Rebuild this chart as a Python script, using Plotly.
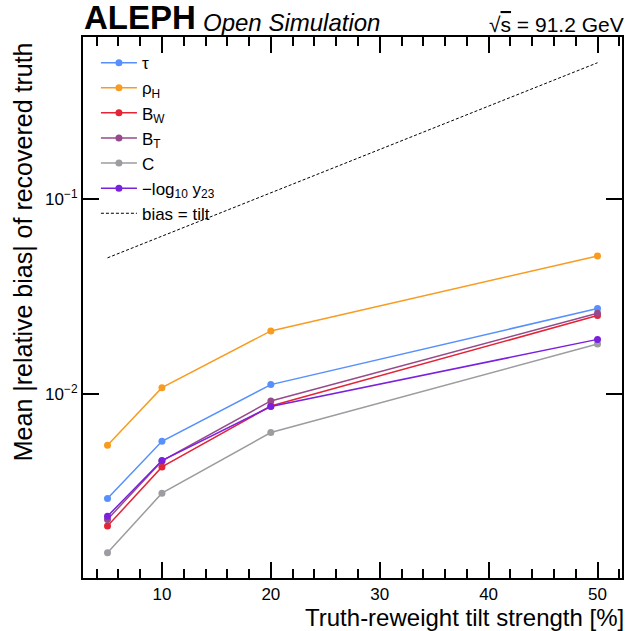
import plotly.graph_objects as go

tilt = [5, 10, 20, 50]
series_names = ["τ", "ρ<sub>H</sub>", "B<sub>W</sub>", "B<sub>T</sub>", "C", "−log<sub>10</sub> y<sub>23</sub>"]
tau = [0.00292, 0.00574, 0.0112, 0.0275]
rho_h = [0.00548, 0.0108, 0.0211, 0.0511]
b_w = [0.00211, 0.00424, 0.0087, 0.0253]
b_t = [0.00228, 0.00455, 0.00924, 0.0260]
c_par = [0.00154, 0.00311, 0.00636, 0.0181]
log_y23 = [0.00237, 0.00457, 0.00865, 0.0191]
colors = ["#5790fc", "#f89c20", "#e42536", "#964a8b", "#9c9ca1", "#7a21dd"]
bias_x = [5, 50]
bias_y = [x / 100 for x in bias_x]
y_major = [0.01, 0.1]
y_major_text = ["10<sup>−2</sup>", "10<sup>−1</sup>"]
y_minor = [v * 10 ** e for e in (-3, -2, -1) for v in range(2, 10)]

FONT = "Liberation Sans, Arial, Helvetica, sans-serif"
YRANGE = [-2.942, -0.169]
MAJ_LEN, MIN_LEN, TW = 16, 9, 1.5

fig = go.Figure()
for name, vals, col in zip(series_names, [tau, rho_h, b_w, b_t, c_par, log_y23], colors):
    fig.add_trace(go.Scatter(x=tilt, y=vals, mode="lines+markers", name=name,
                             line=dict(color=col, width=1.5),
                             marker=dict(color=col, size=7)))
fig.add_trace(go.Scatter(x=bias_x, y=bias_y, mode="lines", name="bias = tilt",
                         line=dict(color="black", width=1, dash="3px,2px")))

fig.update_layout(
    xaxis=dict(range=[2.75, 52.25], tickmode="linear", dtick=10, tick0=0,
               showline=True, linecolor="black", linewidth=2, mirror="allticks",
               ticks="inside", ticklen=MAJ_LEN, tickwidth=TW, tickcolor="black",
               showgrid=False, zeroline=False,
               tickfont=dict(size=17, color="black", family=FONT),
               minor=dict(ticks="inside", ticklen=MIN_LEN, tickwidth=TW, dtick=2, tick0=0,
                          tickcolor="black", showgrid=False)),
    yaxis=dict(type="log", range=YRANGE,
               tickmode="array", tickvals=y_major, ticktext=y_major_text,
               showline=True, linecolor="black", linewidth=2, mirror="allticks",
               ticks="inside", ticklen=MAJ_LEN, tickwidth=TW, tickcolor="black",
               showgrid=False, zeroline=False,
               tickfont=dict(size=17, color="black", family=FONT)),
    yaxis2=dict(type="log", range=YRANGE, overlaying="y", side="left",
                tickmode="array", tickvals=y_minor, showticklabels=False,
                showline=False, mirror="allticks",
                ticks="inside", ticklen=MIN_LEN, tickwidth=TW, tickcolor="black",
                showgrid=False, zeroline=False),
)

fig.update_layout(
    width=627, height=631,
    margin=dict(l=83, r=3, t=37, b=53),
    plot_bgcolor="white", paper_bgcolor="white",
    font=dict(family=FONT, color="black", size=17),
    showlegend=True,
    legend=dict(x=0.024, y=0.985, xanchor="left", yanchor="top", bgcolor="rgba(0,0,0,0)",
                font=dict(size=17, family=FONT), tracegroupgap=0, itemwidth=36),
    annotations=[
        dict(xref="paper", yref="paper", x=-0.002, y=0.998, xanchor="left", yanchor="bottom",
             text="<b>ALEPH</b>", showarrow=False, font=dict(size=33, family=FONT)),
        dict(xref="paper", yref="paper", x=0.218, y=0.998, xanchor="left", yanchor="bottom",
             text="<i>Open Simulation</i>", showarrow=False, font=dict(size=24, family=FONT)),
        dict(xref="paper", yref="paper", x=1.008, y=0.998, xanchor="right", yanchor="bottom",
             text="√<span style='text-decoration:overline'>s</span> = 91.2 GeV", showarrow=False,
             font=dict(size=21, family=FONT)),
        dict(xref="paper", yref="paper", x=-60 / 541, y=(578 - 252) / 541, xanchor="center", yanchor="middle",
             text="Mean |relative bias| of recovered truth", textangle=-90, showarrow=False,
             font=dict(size=25, family=FONT)),
        dict(xref="paper", yref="paper", x=1.008, y=-(617 - 578) / 541, xanchor="right", yanchor="middle",
             text="Truth-reweight tilt strength [%]", showarrow=False,
             font=dict(size=24, family=FONT)),
    ],
)

fig.write_html("out.html")
